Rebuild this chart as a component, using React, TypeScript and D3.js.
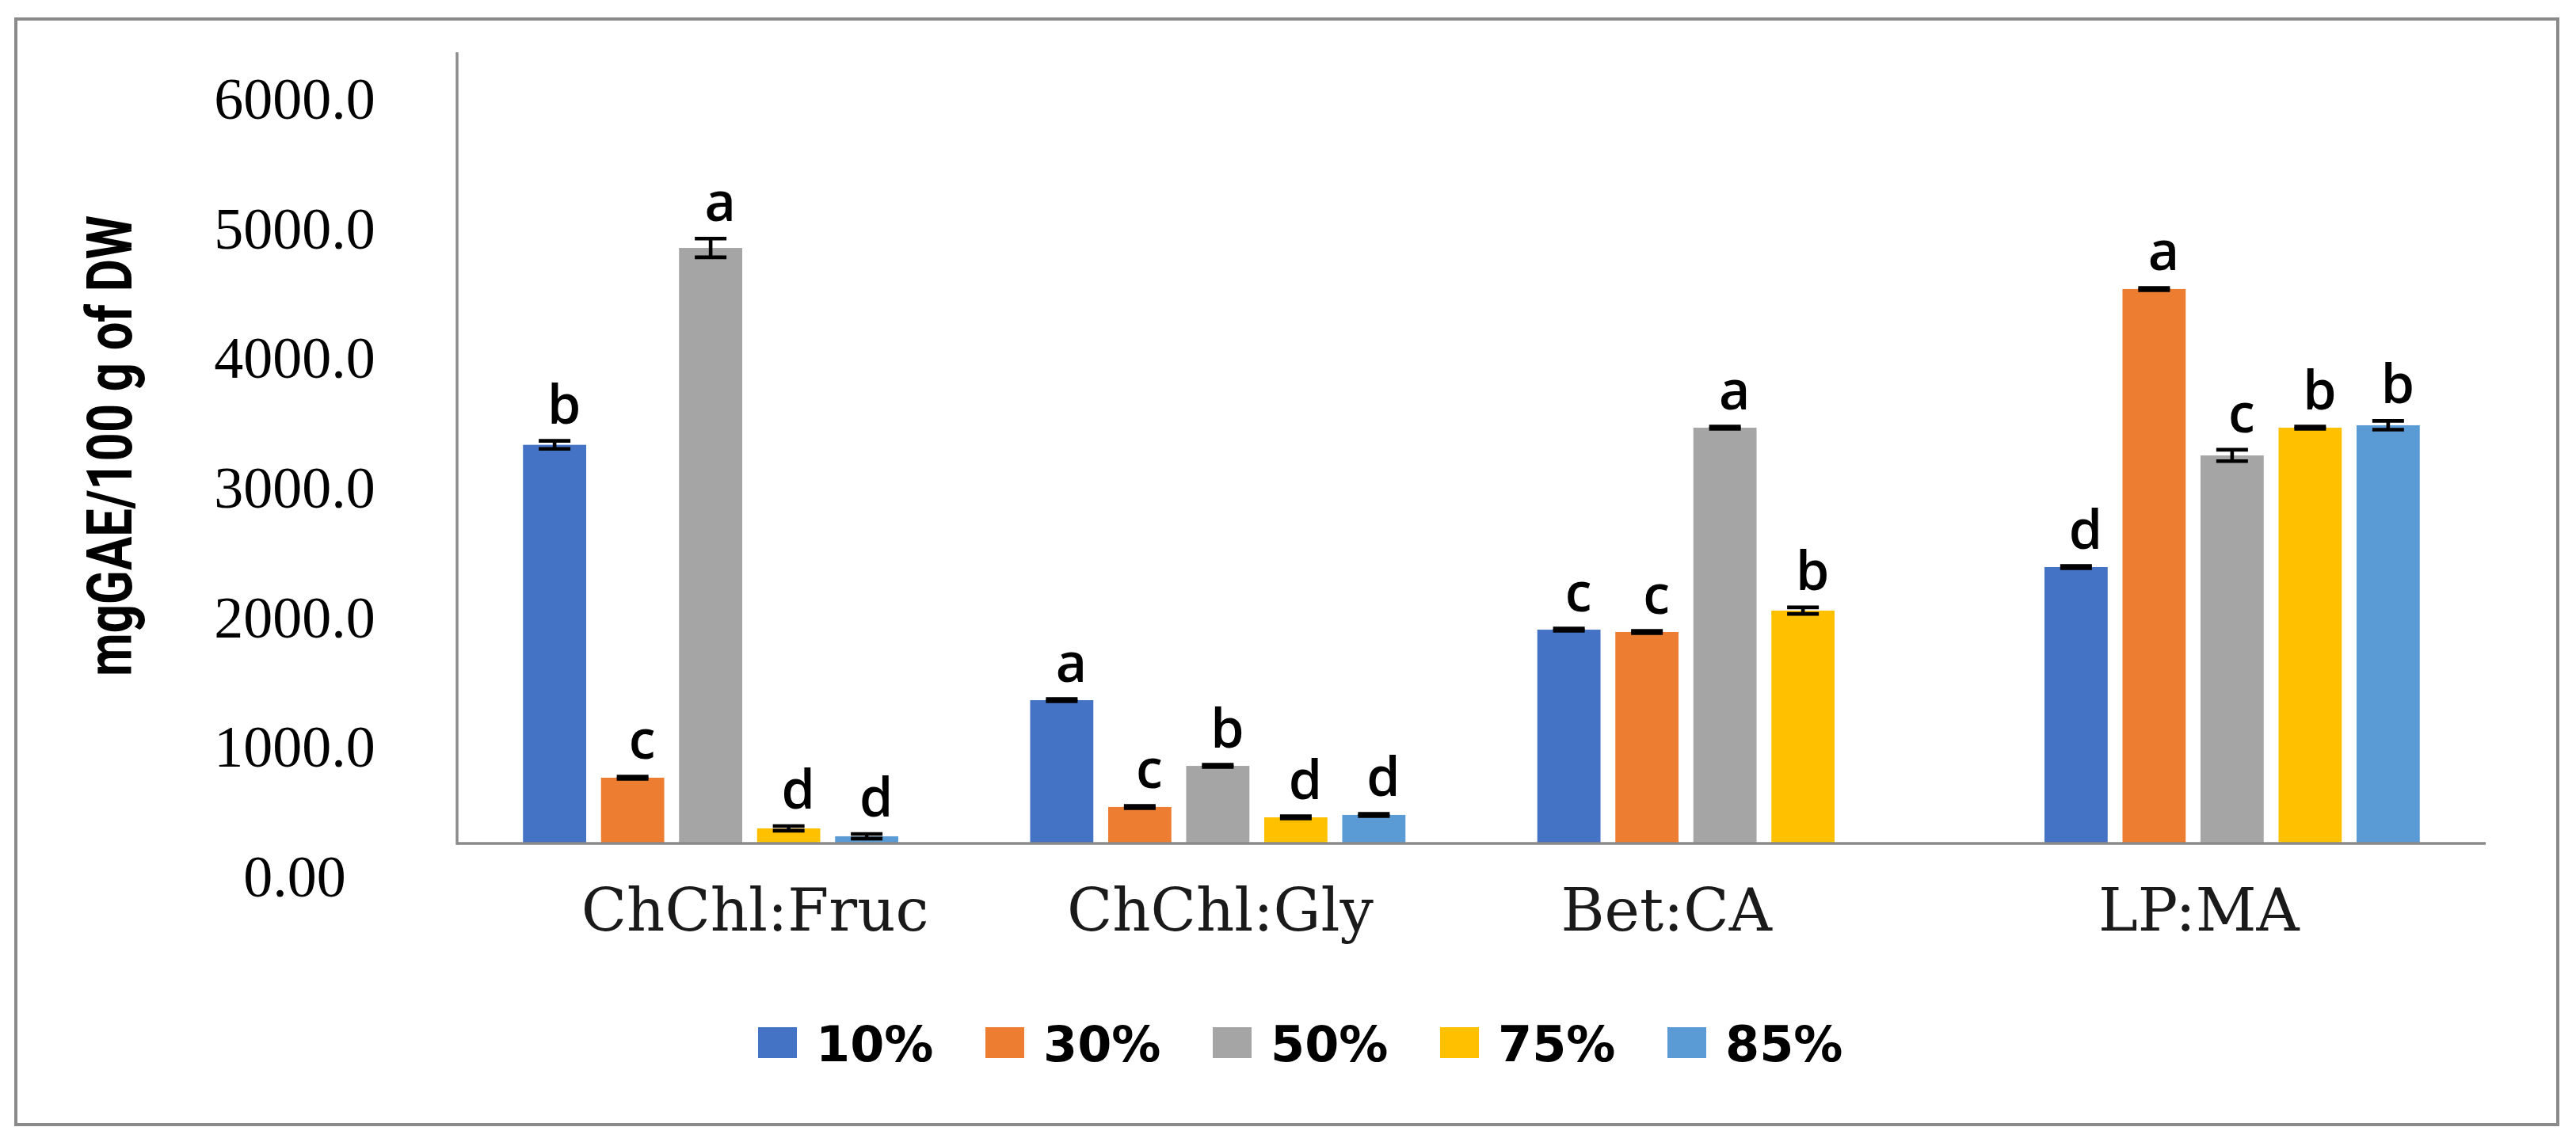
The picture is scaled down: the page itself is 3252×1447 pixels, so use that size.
import React from 'react';
import * as d3 from 'd3';

// ---------- data ----------
const CATEGORIES = ['ChChl:Fruc', 'ChChl:Gly', 'Bet:CA', 'LP:MA'];
const SERIES = ['10%', '30%', '50%', '75%', '85%'];
const COLORS = ['#4472C4', '#ED7D31', '#A5A5A5', '#FFC000', '#5B9BD5'];

const VALUES_10 = [3332, 1362, 1906, 2389];
const VALUES_30 = [764, 538, 1888, 4534];
const VALUES_50 = [4851, 855, 3464, 3250];
const VALUES_75 = [373, 458, 2053, 3464];
const VALUES_85 = [312, 477, null, 3483];

const ERR_10 = [31, 9, 9, 9];
const ERR_30 = [9, 9, 9, 9];
const ERR_50 = [72, 9, 9, 44];
const ERR_75 = [18, 9, 25, 9];
const ERR_85 = [18, 9, null, 34];

const LETTERS_10 = ['b', 'a', 'c', 'd'];
const LETTERS_30 = ['c', 'c', 'c', 'a'];
const LETTERS_50 = ['a', 'b', 'a', 'c'];
const LETTERS_75 = ['d', 'd', 'b', 'b'];
const LETTERS_85 = ['d', 'd', null, 'b'];

const Y_TICKS = [0, 1000, 2000, 3000, 4000, 5000, 6000];
const Y_TICK_LABELS = ['0.00', '1000.0', '2000.0', '3000.0', '4000.0', '5000.0', '6000.0'];
const X_AXIS_AT = 257; // value where the category axis crosses
const Y_AXIS_END = 6360;
const Y_TITLE = 'mgGAE/100 g of DW';

const VALUES = [VALUES_10, VALUES_30, VALUES_50, VALUES_75, VALUES_85];
const ERRORS = [ERR_10, ERR_30, ERR_50, ERR_75, ERR_85];
const LETTERS = [LETTERS_10, LETTERS_30, LETTERS_50, LETTERS_75, LETTERS_85];

// ---------- layout ----------
const W = 3252;
const H = 1447;
const PLOT_LEFT = 577;
const PLOT_RIGHT = 3138;
const CAT_LABEL_DX = [56, 3, -74, -42];
const AXIS_GRAY = '#8a8a8a';

export default function App() {
  const y = d3.scaleLinear().domain([0, 6000]).range([1107, 125]);
  const x0 = d3.scaleBand<string>().domain(CATEGORIES).range([PLOT_LEFT, PLOT_RIGHT]).padding(0);
  const x1 = d3
    .scaleBand<string>()
    .domain(SERIES)
    .range([0, x0.bandwidth()])
    .paddingInner(0.19)
    .paddingOuter(0.845);
  const baseY = y(X_AXIS_AT);

  const bars: any[] = [];
  CATEGORIES.forEach((cat, ci) => {
    SERIES.forEach((s, si) => {
      const v = VALUES[si][ci];
      if (v == null) return;
      const e = ERRORS[si][ci] ?? 0;
      const letter = LETTERS[si][ci];
      const bx = (x0(cat) as number) + (x1(s) as number);
      const bw = x1.bandwidth();
      const cx = bx + bw / 2;
      bars.push({ key: cat + s, bx, bw, cx, top: y(v), eTop: y(v + e), eBot: y(v - e), color: COLORS[si], letter });
    });
  });

  const legendStep = 287;
  const legendStart = 957;

  return (
    <svg
      width={W}
      height={H}
      viewBox={`0 0 ${W} ${H}`}
      style={{ position: 'absolute', left: 0, top: 0, background: '#fff' }}
    >
      <rect x={0} y={0} width={W} height={H} fill="#fff" />
      <rect x={20} y={24} width={3209} height={1396} fill="none" stroke={AXIS_GRAY} strokeWidth={4} />

      {/* bars */}
      {bars.map((b) => (
        <rect key={b.key} x={b.bx} y={b.top} width={b.bw} height={Math.max(0, baseY - b.top)} fill={b.color} />
      ))}

      {/* error bars */}
      {bars.map((b) => (
        <g key={b.key + 'e'} stroke="#000" strokeWidth={4.6}>
          <line x1={b.cx} x2={b.cx} y1={b.eTop} y2={b.eBot} />
          <line x1={b.cx - 20} x2={b.cx + 20} y1={b.eTop} y2={b.eTop} />
          <line x1={b.cx - 20} x2={b.cx + 20} y1={b.eBot} y2={b.eBot} />
        </g>
      ))}

      {/* significance letters */}
      {bars.map((b) =>
        b.letter ? (
          <text
            key={b.key + 't'}
            x={b.cx + 12}
            y={b.eTop - 22}
            textAnchor="middle"
            fontFamily="'Open Sans', sans-serif"
            fontWeight={600}
            fontSize={68}
            fill="#000"
          >
            {b.letter}
          </text>
        ) : null
      )}

      {/* axes */}
      <line x1={PLOT_LEFT} x2={PLOT_LEFT} y1={y(Y_AXIS_END)} y2={baseY + 1.7} stroke={AXIS_GRAY} strokeWidth={3.4} />
      <line x1={PLOT_LEFT} x2={PLOT_RIGHT} y1={baseY} y2={baseY} stroke={AXIS_GRAY} strokeWidth={3.6} />

      {/* y tick labels */}
      {Y_TICKS.map((t, i) => (
        <text
          key={'yt' + t}
          x={372}
          y={y(t) + 25}
          textAnchor="middle"
          fontFamily="'Liberation Serif', 'Times New Roman', serif"
          fontSize={74}
          fill="#000"
        >
          {Y_TICK_LABELS[i]}
        </text>
      ))}

      {/* y title */}
      <text
        transform={`translate(166, 563) rotate(-90)`}
        textAnchor="middle"
        fontFamily="Roboto, 'Open Sans', sans-serif"
        fontWeight={700}
        fontSize={79}
        textLength={582}
        lengthAdjust="spacingAndGlyphs"
        fill="#000"
      >
        {Y_TITLE}
      </text>

      {/* category labels */}
      {CATEGORIES.map((c, i) => (
        <text
          key={'c' + c}
          x={(x0(c) as number) + x0.bandwidth() / 2 + CAT_LABEL_DX[i]}
          y={1175}
          textAnchor="middle"
          fontFamily="'DejaVu Serif', serif"
          fontSize={75}
          fill="#1a1a1a"
        >
          {c}
        </text>
      ))}

      {/* legend */}
      {SERIES.map((s, i) => (
        <g key={'lg' + s} transform={`translate(${legendStart + i * legendStep}, 0)`}>
          <rect x={0} y={1297} width={49} height={39} fill={COLORS[i]} />
          <text
            x={73}
            y={1340}
            fontFamily="'DejaVu Sans', sans-serif"
            fontWeight={700}
            fontSize={62}
            fill="#000"
          >
            {s}
          </text>
        </g>
      ))}
    </svg>
  );
}
